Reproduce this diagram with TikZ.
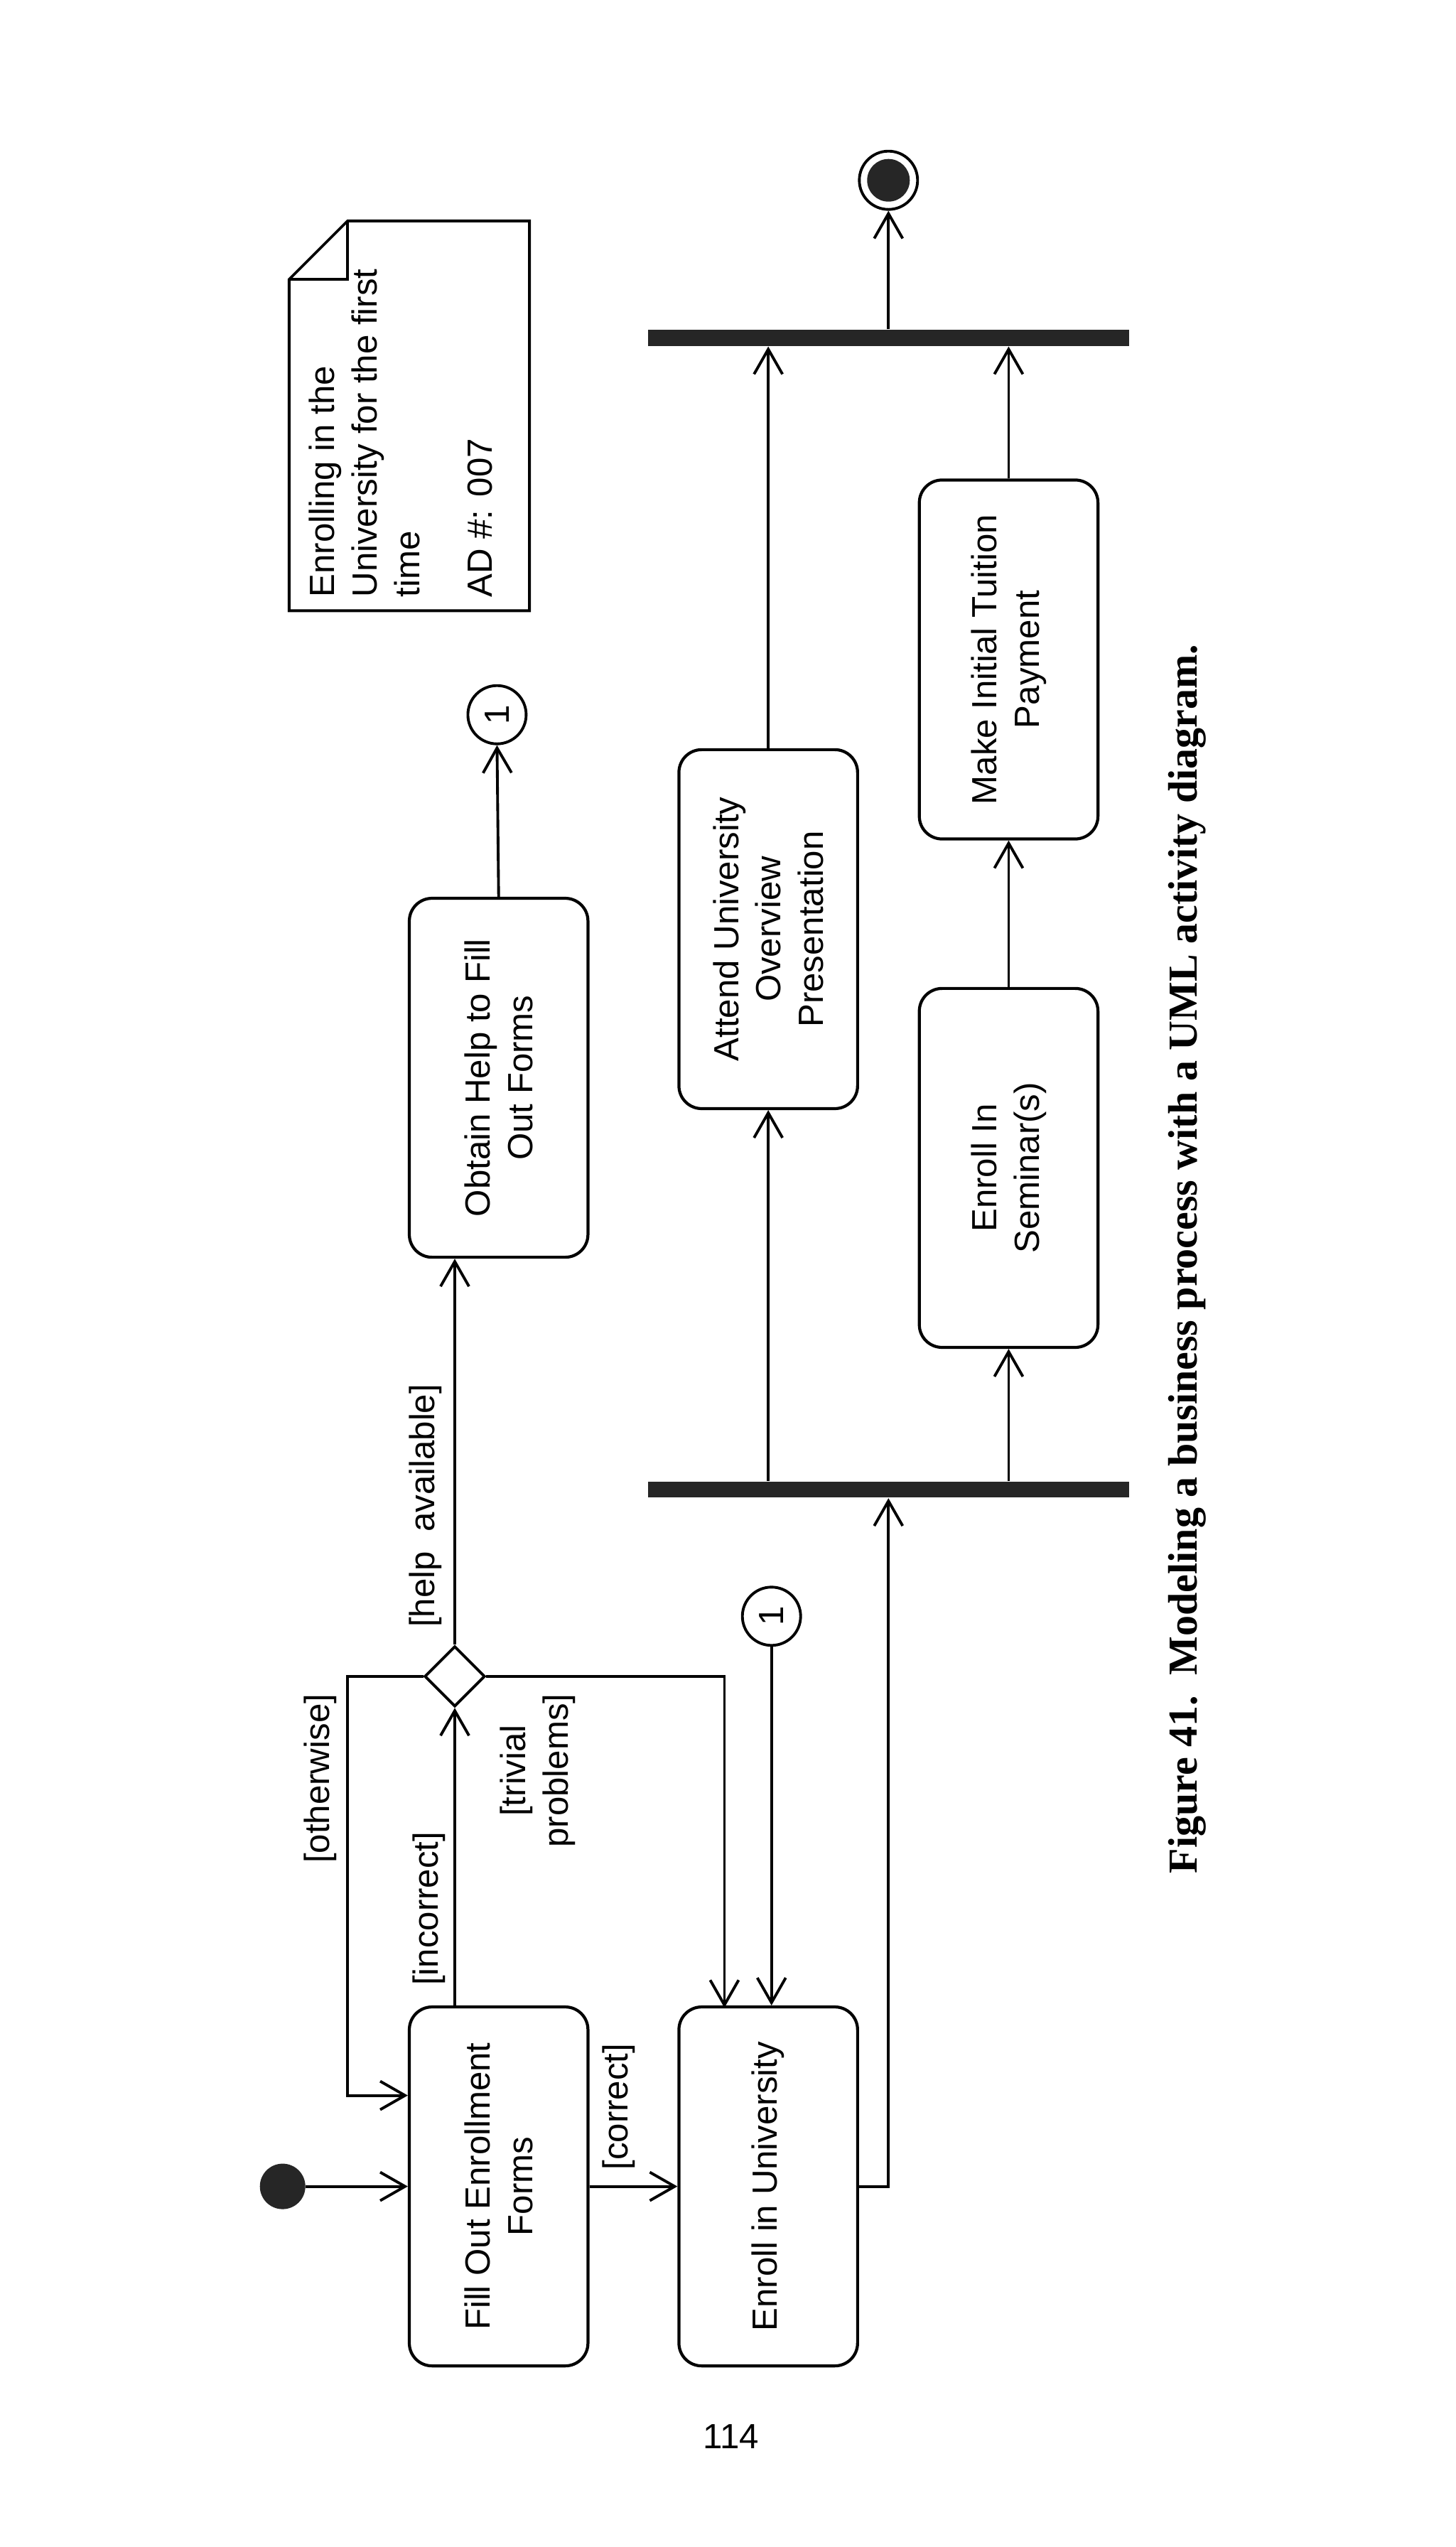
\documentclass[tikz,border=0pt]{standalone}
\usepackage{fontspec}
\setmainfont{Liberation Sans}
\newfontfamily\capfont{Liberation Serif}
\usetikzlibrary{arrows.meta,shapes.geometric,calc}
\begin{document}
\begin{tikzpicture}[x=0.022857cm,y=-0.022857cm,
  every node/.style={font=\fontsize{14}{17}\selectfont},
  box/.style={draw,line width=1.2pt,rounded corners=0.32cm,minimum width=2.514cm,minimum height=5.051cm,inner sep=0pt},
  bar/.style={fill=black!85,minimum width=6.766cm,minimum height=0.229cm,inner sep=0pt},
  arr/.style={line width=1.1pt,-{Straight Barb[length=0.35cm,width=0.4cm,line width=1.1pt]}},
  txt/.style={rotate=90,align=center},
  lab/.style={rotate=90,align=center,inner sep=1pt},
  conn/.style={draw,circle,line width=1.1pt,minimum size=0.82cm,inner sep=0pt}]
\useasboundingbox (0,0) rectangle (896,1568);
% nodes
\node[circle,fill=black!85,minimum size=0.64cm,inner sep=0pt] (init) at (174,1346) {};
\node[box] (fill) at (307,1346) {};
\node[txt] at (fill) {Fill Out Enrollment\\Forms};
\node[box] (enroll) at (473,1346) {};
\node[txt] at (enroll) {Enroll in University};
\node[box] (obtain) at (307,663.5) {};
\node[txt] at (obtain) {Obtain Help to Fill\\Out Forms};
\node[box] (attend) at (473,572) {};
\node[txt] at (attend) {Attend University\\Overview\\Presentation};
\node[box] (seminar) at (621,719) {};
\node[txt] at (seminar) {Enroll In\\Seminar(s)};
\node[box] (tuition) at (621,406) {};
\node[txt] at (tuition) {Make Initial Tuition\\Payment};
\node[bar] (fork) at (547,917) {};
\node[bar] (join) at (547,208) {};
\node[circle,draw,line width=1.1pt,minimum size=0.82cm,inner sep=0pt] (final) at (547,111) {};
\node[circle,fill=black!85,minimum size=0.6cm,inner sep=0pt] at (final) {};
\node[diamond,draw,line width=1.1pt,minimum size=0.85cm,inner sep=0pt] (dia) at (280,1032) {};
\node[conn] (c1) at (306,440) {\rotatebox{90}{1}};
\node[conn] (c2) at (475,995) {\rotatebox{90}{1}};
\coordinate (ow) at (214,1290);
\coordinate (tr) at (446,1236);
% connectors
\draw[arr] (init) -- (fill.west);
\draw[arr] (dia |- fill.north) -- (dia.south);
\draw[arr] (dia.north) -- (dia |- obtain.south);
\draw[arr] (obtain.north) -- (c1.south);
\draw[arr] (dia.west) -| (ow) -- (fill.west |- ow);
\draw[arr] (dia.east) -| (tr);
\draw[arr] (c2.south) -- (c2.south |- enroll.north);
\draw[arr] (fill.east) -- (enroll.west);
\draw[arr] (enroll.east) -| (fork.south);
\draw[arr] (attend.south |- fork.north) -- (attend.south);
\draw[arr] (seminar.south |- fork.north) -- (seminar.south);
\draw[arr] (attend.north) -- (attend.north |- join.south);
\draw[arr] (seminar.north) -- (tuition.south);
\draw[arr] (tuition.north) -- (tuition.north |- join.south);
\draw[arr] (join.north) -- (final.south);
% guard labels
\node[lab] (l1) at (264,1175) {[incorrect]};
\node[lab] (l2) at (381,1297) {[correct]};
\node[lab] (l3) at (262,927) {[help\ \ available]};
\node[lab] (l4) at (197,1095) {[otherwise]};
\node[lab] (l5) at (331,1090) {[trivial\\problems]};
% note
\draw[line width=1.1pt] (178,172) -- (214,136) -- (326,136) -- (326,376) -- (178,376) -- cycle;
\draw[line width=1.1pt] (178,172) -- (214,172) -- (214,136);
\node[rotate=90,align=left,anchor=north west,inner sep=0pt] (note) at (190,368)
  {Enrolling in the\\University for the first\\time\\[12pt]AD \#: 007};
% caption
\node[rotate=90,font=\capfont\bfseries\fontsize{16.5}{20}\selectfont] (cap) at (731,775)
  {Figure 41.\ \ Modeling a business process with a UML activity diagram.};
\node (pg) at (450,1500) {114};
\end{tikzpicture}
\end{document}
